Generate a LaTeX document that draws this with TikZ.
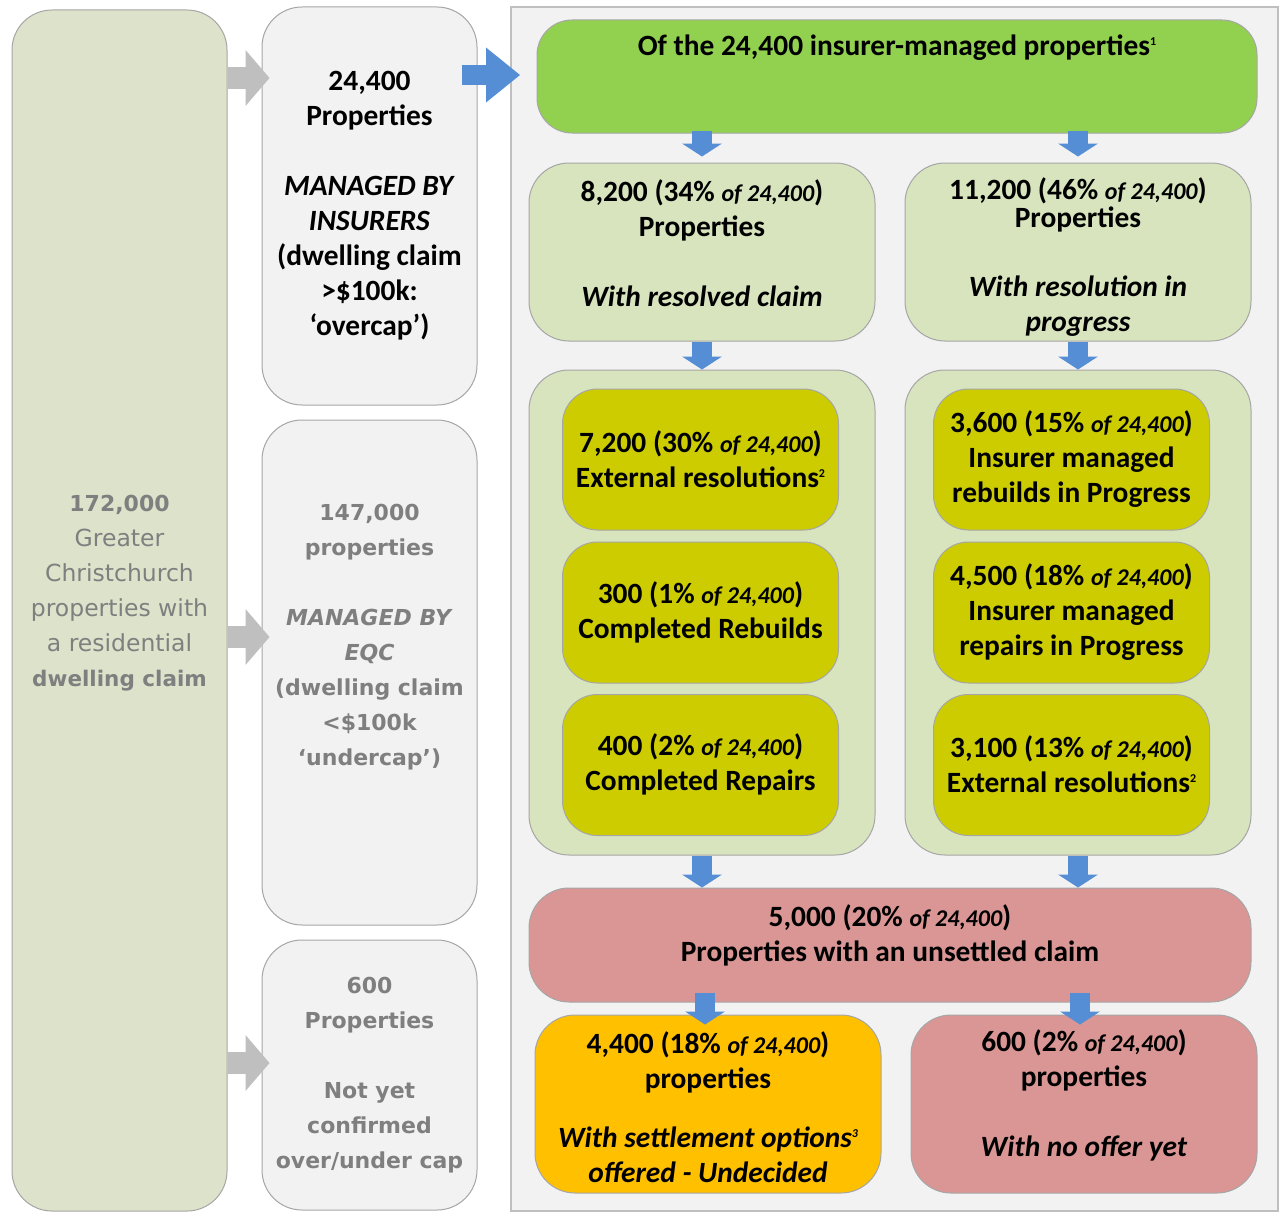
\documentclass[tikz,border=0pt]{standalone}
\usepackage{fontspec}
\setmainfont{Carlito}
\newfontfamily\greyfont{DejaVu Sans}
\usetikzlibrary{arrows.meta}

\definecolor{totfill}{HTML}{DDE2CB}
\definecolor{panelgrey}{HTML}{F2F2F2}
\definecolor{boxline}{HTML}{A6A6A6}
\definecolor{topgreen}{HTML}{92D050}
\definecolor{palegreen}{HTML}{D7E4BD}
\definecolor{mustard}{HTML}{CCCC00}
\definecolor{rose}{HTML}{D99694}
\definecolor{amber}{HTML}{FFC000}
\definecolor{arrowblue}{HTML}{558ED5}
\definecolor{arrowgrey}{HTML}{BFBFBF}
\definecolor{greytext}{HTML}{7F7F7F}

\newcommand\ofpart[1]{{\fontsize{24}{35}\selectfont\itshape of #1}}
\newcommand\fnote[1]{\raisebox{10pt}{\fontsize{12}{12}\selectfont #1}}

\begin{document}
\begin{tikzpicture}[x=1pt,y=-1pt,
  box/.style={draw=boxline, line width=1pt, rounded corners=40pt, inner sep=0pt},
  smallbox/.style={box, rounded corners=35pt, fill=mustard, minimum width=276pt, minimum height=141pt},
  txt/.style={align=center, inner sep=0pt, font=\fontsize{29.4}{35}\selectfont\bfseries},
  gtxt/.style={align=center, inner sep=0pt, text=greytext, font=\greyfont\fontsize{22}{35}\selectfont\bfseries},
  bluedown/.style={draw=arrowblue, line width=20pt, -{Triangle[width=40pt,length=13pt,line width=0pt]}},
  greyarrow/.style={draw=arrowgrey, line width=22pt, -{Triangle[width=56pt,length=24pt,line width=0pt]}}]
\useasboundingbox (0,0) rectangle (1285,1215);

% left column
\node[box, fill=totfill, minimum width=215pt, minimum height=1201pt] (tot) at (119.5,610.5) {};
\node[box, fill=panelgrey, minimum width=215pt, minimum height=398pt] (ins) at (369.5,206) {};
\node[box, fill=panelgrey, minimum width=215pt, minimum height=505pt] (eqc) at (369.5,672.5) {};
\node[box, fill=panelgrey, minimum width=215pt, minimum height=270pt] (unk) at (369.5,1075) {};

\node[gtxt, font=\greyfont\fontsize{23.5}{35}\selectfont] (tot-t) at (119.5,593)
  {{\fontsize{22}{35}\selectfont\bfseries 172,000}\\ Greater\\ Christchurch\\ properties with\\ a residential\\ {\fontsize{21.5}{35}\selectfont\bfseries dwelling claim}};
\node[txt] (ins-t) at (369.5,206) {24,400\\ Properties\\[35pt] \textit{MANAGED BY}\\ \textit{INSURERS}\\ (dwelling claim\\ >\$100k:\\ ‘overcap’)};
\node[gtxt] (eqc-t) at (369.5,637) {147,000\\ properties\\[35pt] \textit{MANAGED BY}\\ \textit{EQC}\\ (dwelling claim\\ <\$100k\\ ‘undercap’)};
\node[gtxt] (unk-t) at (369.5,1075) {600\\ Properties\\[35pt] Not yet\\ confirmed\\ over/under cap};

\draw[greyarrow, shorten >=-8pt] (tot.east |- 0,78) -- (ins.west |- 0,78);
\draw[greyarrow, shorten >=-8pt] (tot.east |- 0,637) -- (eqc.west |- 0,637);
\draw[greyarrow, shorten >=-8pt] (tot.east |- 0,1063) -- (unk.west |- 0,1063);

% insurer panel
\node[draw=arrowgrey, line width=2pt, fill=panelgrey, inner sep=0pt, minimum width=767pt, minimum height=1204pt] (panel) at (894.5,609) {};
\draw[draw=arrowblue, line width=20pt, -{Triangle[width=55pt,length=34pt,line width=0pt]}, shorten <=-16pt, shorten >=-10pt] (ins.east |- 0,75) -- (panel.west |- 0,75);

\node[box, rounded corners=35pt, fill=topgreen, minimum width=720pt, minimum height=113pt] (green) at (897,76.5) {};
\node[txt] (green-t) at (897,48) {Of the 24,400 insurer-managed properties\fnote{1}};

\node[box, fill=palegreen, minimum width=346pt, minimum height=178pt] (res) at (702,252) {};
\node[box, fill=palegreen, minimum width=346pt, minimum height=178pt] (prog) at (1078,252) {};
\node[txt] (res-t) at (702,243.5) {8,200 (34\% \ofpart{24,400})\\ Properties\\[35pt] \textit{With resolved claim}};
\node[txt] (prog-t) at (1078,257) {11,200 (46\% \ofpart{24,400})\\[-7pt] Properties\\[34pt] \textit{With resolution in}\\ \textit{progress}};

\node[box, fill=palegreen, minimum width=346pt, minimum height=485pt] (resgrp) at (702,612.5) {};
\node[box, fill=palegreen, minimum width=346pt, minimum height=485pt] (proggrp) at (1078,612.5) {};

\node[smallbox] (ext1) at (700.5,459.5) {};
\node[smallbox] (rebuilt) at (700.5,612.5) {};
\node[smallbox] (repaired) at (700.5,765) {};
\node[smallbox] (rebuilding) at (1071.5,459.5) {};
\node[smallbox] (repairing) at (1071.5,612.5) {};
\node[smallbox] (ext2) at (1071.5,765) {};

\node[txt] (ext1-t) at (700.5,459.5) {7,200 (30\% \ofpart{24,400})\\ External resolutions\fnote{2}};
\node[txt] (rebuilt-t) at (700.5,612.5) {300 (1\% \ofpart{24,400})\\ Completed Rebuilds};
\node[txt] (repaired-t) at (700.5,764.5) {400 (2\% \ofpart{24,400})\\ Completed Repairs};
\node[txt] (rebuilding-t) at (1071.5,459.5) {3,600 (15\% \ofpart{24,400})\\ Insurer managed\\ rebuilds in Progress};
\node[txt] (repairing-t) at (1071.5,612) {4,500 (18\% \ofpart{24,400})\\ Insurer managed\\ repairs in Progress};
\node[txt] (ext2-t) at (1071.5,764.5) {3,100 (13\% \ofpart{24,400})\\ External resolutions\fnote{2}};

\node[box, fill=rose, minimum width=722pt, minimum height=114pt] (unset) at (890,945) {};
\node[txt] (unset-t) at (890,935.5) {5,000 (20\% \ofpart{24,400})\\ Properties with an unsettled claim};

\node[box, fill=amber, minimum width=346pt, minimum height=178pt] (undec) at (708,1104) {};
\node[box, fill=rose, minimum width=346pt, minimum height=178pt] (nooffer) at (1084,1104) {};
\node[txt] (undec-t) at (708,1107.5) {4,400 (18\% \ofpart{24,400})\\ properties\\[24pt] \textit{With settlement options\fnote{3}}\\ \textit{offered - Undecided}};
\node[txt] (nooffer-t) at (1084,1095.5) {600 (2\% \ofpart{24,400})\\ properties\\[35pt] \textit{With no offer yet}};

% blue arrows
\draw[bluedown, shorten <=-3pt, shorten >=6pt] (green.south -| res.north) -- (res.north);
\draw[bluedown, shorten <=-3pt, shorten >=6pt] (green.south -| prog.north) -- (prog.north);
\draw[bluedown] (res) -- (resgrp);
\draw[bluedown] (prog) -- (proggrp);
\draw[bluedown] (resgrp.south) -- (resgrp.south |- unset.north);
\draw[bluedown] (proggrp.south) -- (proggrp.south |- unset.north);
\draw[bluedown, shorten <=-10pt, shorten >=-10pt] ([xshift=-3pt]unset.south -| undec.north) -- ([xshift=-3pt]undec.north);
\draw[bluedown, shorten <=-10pt, shorten >=-10pt] ([xshift=-4pt]unset.south -| nooffer.north) -- ([xshift=-4pt]nooffer.north);
\end{tikzpicture}
\end{document}
